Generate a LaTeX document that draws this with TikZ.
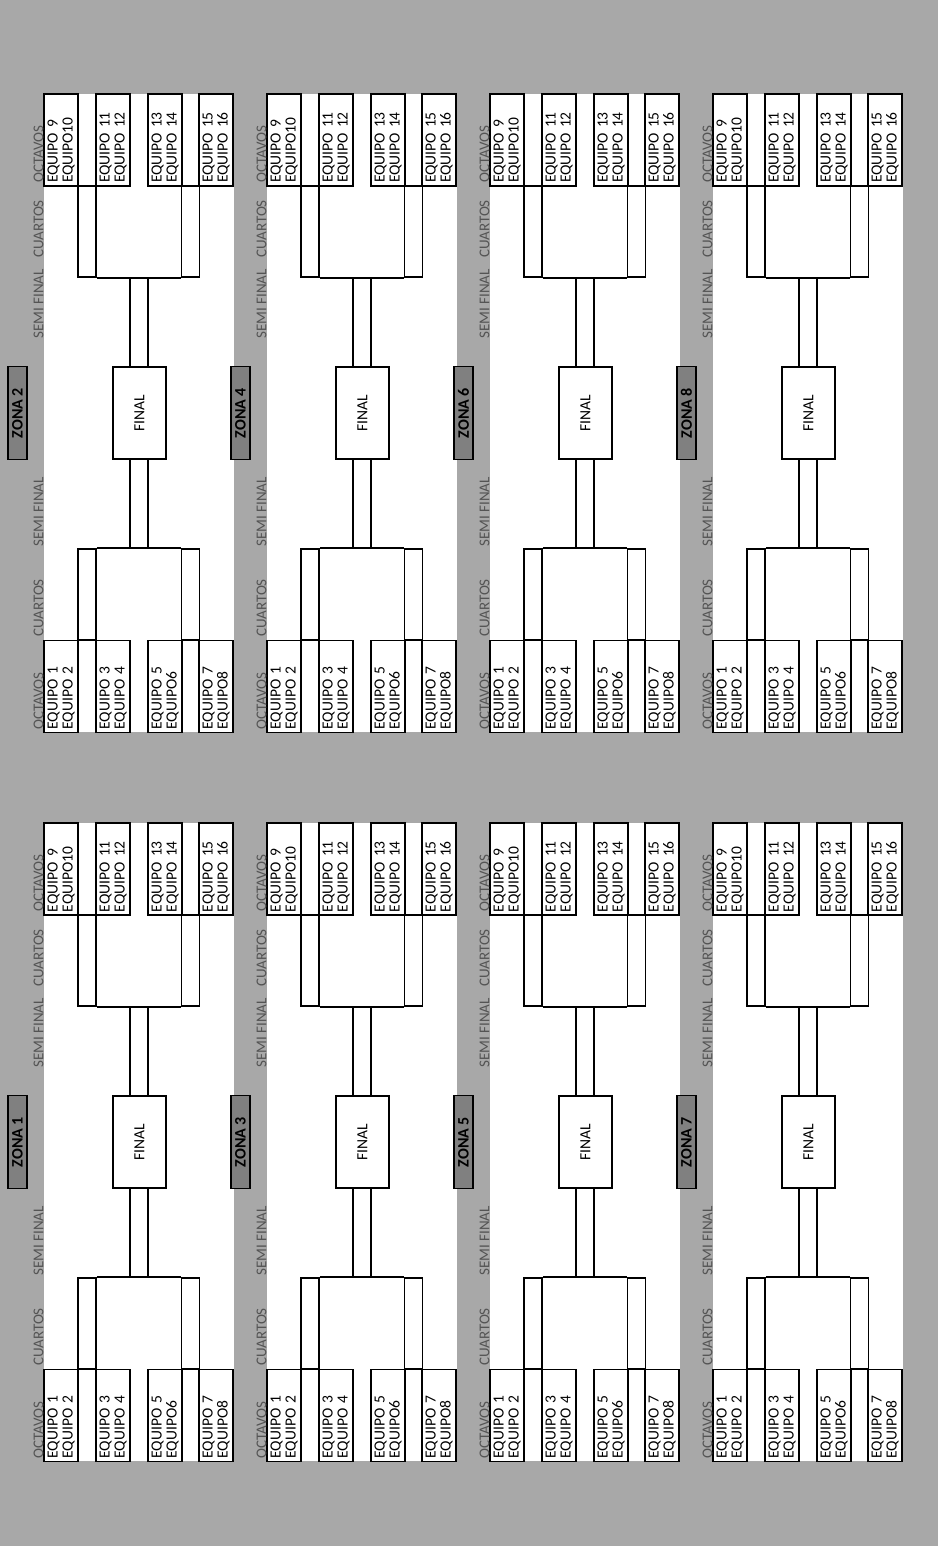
\documentclass[tikz,border=0pt]{standalone}
\usepackage{fontspec}
\setmainfont{Carlito}
\definecolor{fondo}{gray}{0.66}
\definecolor{zona}{gray}{0.50}
\definecolor{etiqueta}{gray}{0.33}
\tikzset{
  linea/.style={line width=1.7pt},
  equipo/.style={linea,draw,fill=white,rotate=90,minimum width=92pt,minimum height=34pt,
    inner xsep=3pt,inner ysep=0pt,text width=86pt,align=left,font=\fontsize{15.5}{15}\selectfont},
  cuarto/.style={linea,draw,fill=white,minimum width=18pt,minimum height=91pt,inner sep=0pt},
  final/.style={linea,draw,fill=white,minimum width=53pt,minimum height=92pt,inner sep=0pt,
    font=\fontsize{15.5}{15}\selectfont},
  zonabox/.style={linea,draw,fill=zona,rotate=90,minimum width=93pt,minimum height=19pt,
    inner sep=0pt,font=\bfseries\fontsize{16}{16}\selectfont},
  etapa/.style={rotate=90,anchor=west,inner sep=0pt,text=etiqueta,font=\fontsize{15}{15}\selectfont}
}
\begin{document}
\begin{tikzpicture}[x=1pt,y=-1pt]
  \useasboundingbox (0,0) rectangle (938,1546);
  \fill[fondo] (0,0) rectangle (938,1546);
  \foreach \i in {0,...,3}
  \foreach \j in {0,1}
  {
    \pgfmathsetmacro\X{44+223*\i}
    \pgfmathsetmacro\Y{94+729*\j}
    \pgfmathtruncatemacro\z{2*\i+2-\j}
    \fill[white] (\X,\Y) rectangle ++(190,638);
    % octavos
    \foreach \dx/\a/\b [count=\k] in {0/EQUIPO 9/EQUIPO10,52/EQUIPO 11/EQUIPO 12,104/EQUIPO 13/EQUIPO 14,155/EQUIPO 15/EQUIPO 16}
      \node[equipo] (oa\i\j-\k) at (\X+\dx+17,\Y+46) {\a\\\b};
    \foreach \dx/\a/\b [count=\k] in {0/EQUIPO 1/EQUIPO 2,52/EQUIPO 3/EQUIPO 4,104/EQUIPO 5/EQUIPO6,155/EQUIPO 7/EQUIPO8}
      \node[equipo] (ob\i\j-\k) at (\X+\dx+17,\Y+592.5) {\a\\\b};
    % cuartos
    \node[cuarto] (qa\i\j) at (\X+43,\Y+137.5) {};
    \node[cuarto] (qb\i\j) at (\X+146.5,\Y+137.5) {};
    \node[cuarto] (qc\i\j) at (\X+43,\Y+500.5) {};
    \node[cuarto] (qd\i\j) at (\X+146.5,\Y+500.5) {};
    \draw[linea] (qa\i\j.south east) -- (qb\i\j.south west);
    \draw[linea] (qc\i\j.north east) -- (qd\i\j.north west);
    % semifinal y final
    \node[final] (f\i\j) at (\X+95.5,\Y+319) {\rotatebox{90}{FINAL}};
    \coordinate (sa\i\j) at (\X+86,\Y+183);
    \coordinate (sb\i\j) at (\X+104,\Y+183);
    \coordinate (sc\i\j) at (\X+86,\Y+454);
    \coordinate (sd\i\j) at (\X+104,\Y+454);
    \draw[linea] (sa\i\j) -- (sa\i\j |- f\i\j.north);
    \draw[linea] (sb\i\j) -- (sb\i\j |- f\i\j.north);
    \draw[linea] (sc\i\j) -- (sc\i\j |- f\i\j.south);
    \draw[linea] (sd\i\j) -- (sd\i\j |- f\i\j.south);
    % rotulos
    \node[zonabox] (z\i\j) at (\X-26.5,\Y+319) {ZONA \z};
    \node[etapa] (ea\i\j) at (\X-5.5,\Y+89) {OCTAVOS};
    \node[etapa] (eb\i\j) at (\X-5.5,\Y+164) {CUARTOS};
    \node[etapa] (ec\i\j) at (\X-5.5,\Y+245) {SEMI FINAL};
    \node[etapa] (ed\i\j) at (\X-5.5,\Y+453) {SEMI FINAL};
    \node[etapa] (ee\i\j) at (\X-5.5,\Y+543) {CUARTOS};
    \node[etapa] (ef\i\j) at (\X-5.5,\Y+636) {OCTAVOS};
  }
\end{tikzpicture}
\end{document}
